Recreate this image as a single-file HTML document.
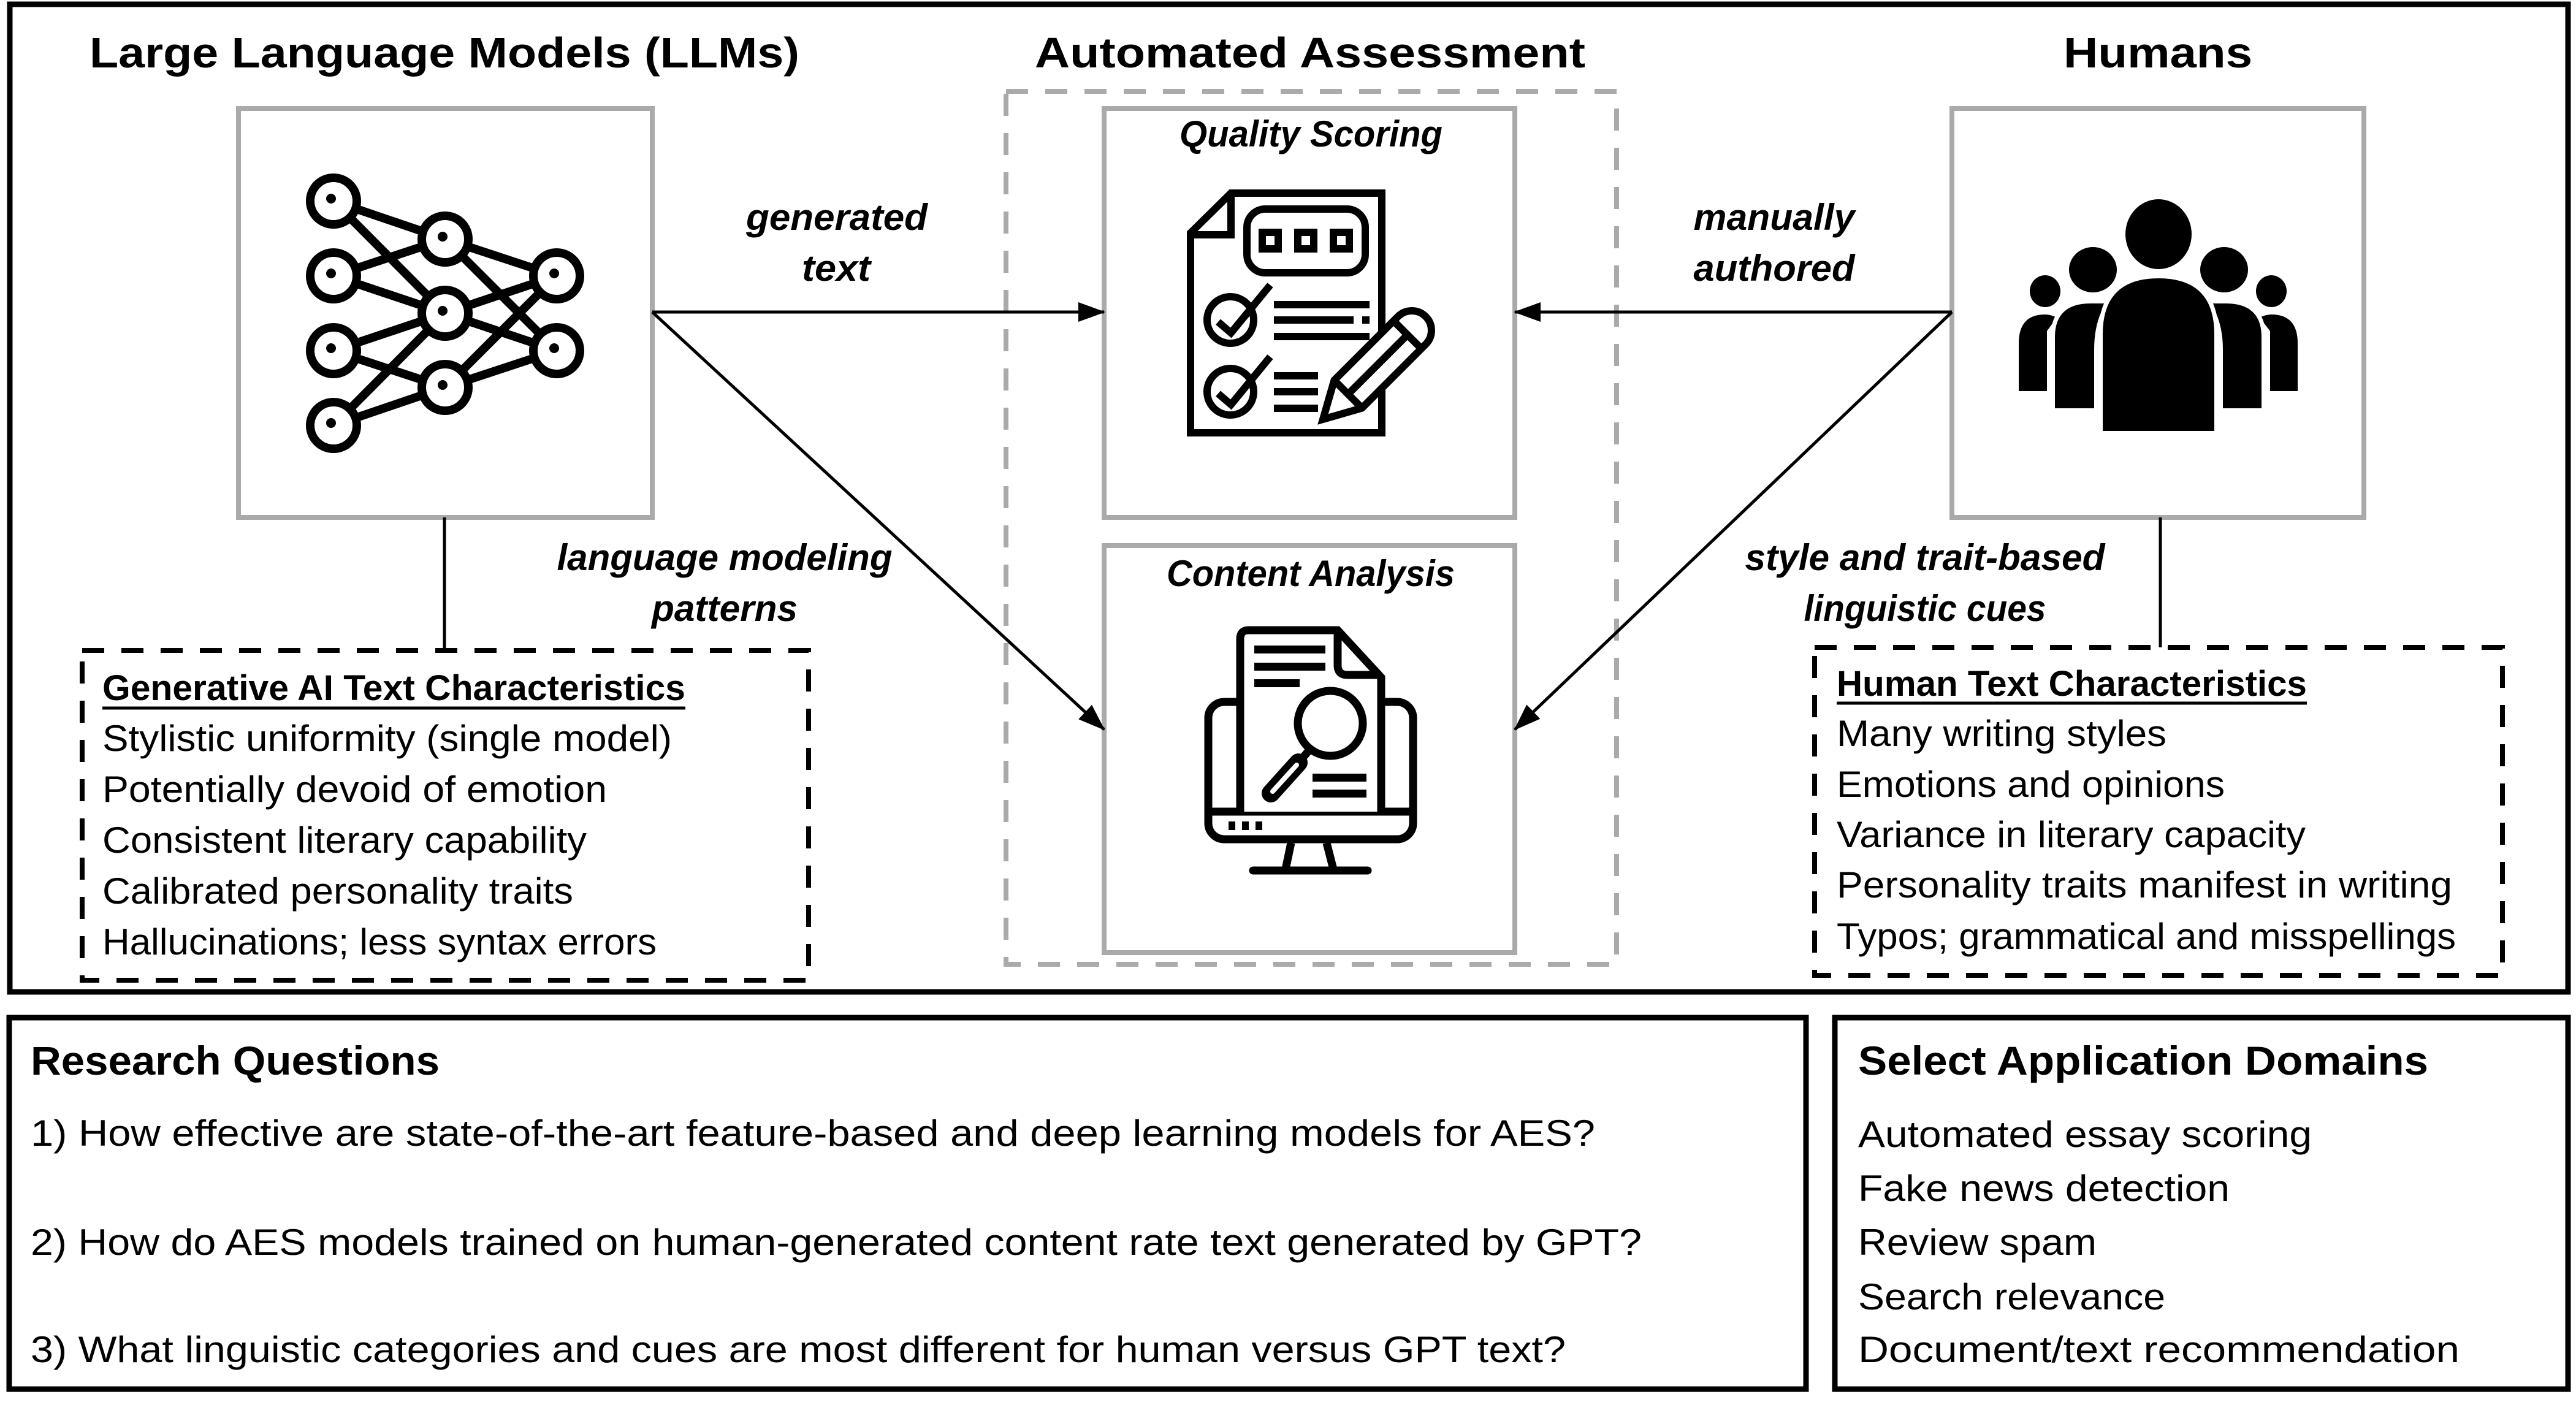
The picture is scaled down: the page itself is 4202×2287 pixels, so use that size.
<!DOCTYPE html>
<html><head><meta charset="utf-8"><style>html,body{margin:0;padding:0;background:#fff}svg{display:block}</style></head><body>
<svg xmlns="http://www.w3.org/2000/svg" width="4202" height="2287" viewBox="0 0 4202 2287" font-family="'Liberation Sans', sans-serif">
<defs>
<marker id="ah" markerUnits="userSpaceOnUse" markerWidth="44" markerHeight="32" refX="42" refY="16" orient="auto"><path d="M0,0 L44,16 L0,32 Z" fill="#000"/></marker>
</defs>
<rect width="4202" height="2287" fill="#fff"/>
<!-- outer boxes -->
<rect x="16" y="7" width="4173" height="1611" fill="none" stroke="#000" stroke-width="9"/>
<rect x="15" y="1660" width="2931" height="606" fill="none" stroke="#000" stroke-width="9"/>
<rect x="2993" y="1660" width="1196" height="606" fill="none" stroke="#000" stroke-width="9"/>

<!-- titles -->
<g font-weight="bold" font-size="70">
<text x="146" y="110" textLength="1158" lengthAdjust="spacingAndGlyphs">Large Language Models (LLMs)</text>
<text x="1688" y="110" textLength="898" lengthAdjust="spacingAndGlyphs">Automated Assessment</text>
<text x="3366" y="110" textLength="308" lengthAdjust="spacingAndGlyphs">Humans</text>
</g>

<!-- gray boxes -->
<rect x="1641" y="149" width="996" height="1424" fill="none" stroke="#aaa" stroke-width="8" stroke-dasharray="36 28"/>
<rect x="389" y="177" width="675" height="667" fill="none" stroke="#aaa" stroke-width="8"/>
<rect x="1801" y="177" width="670" height="667" fill="none" stroke="#aaa" stroke-width="8"/>
<rect x="1801" y="890" width="670" height="664" fill="none" stroke="#aaa" stroke-width="8"/>
<rect x="3184" y="177" width="672" height="667" fill="none" stroke="#aaa" stroke-width="8"/>

<g font-weight="bold" font-style="italic" font-size="60">
<text x="1924" y="239" textLength="429" lengthAdjust="spacingAndGlyphs">Quality Scoring</text>
<text x="1903" y="956" textLength="470" lengthAdjust="spacingAndGlyphs">Content Analysis</text>
<text x="1365" y="375" text-anchor="middle" textLength="296" lengthAdjust="spacingAndGlyphs">generated</text>
<text x="1364" y="458" text-anchor="middle" textLength="112" lengthAdjust="spacingAndGlyphs">text</text>
<text x="2894" y="375" text-anchor="middle" textLength="263" lengthAdjust="spacingAndGlyphs">manually</text>
<text x="2894" y="458" text-anchor="middle" textLength="263" lengthAdjust="spacingAndGlyphs">authored</text>
<text x="1182" y="930" text-anchor="middle" textLength="547" lengthAdjust="spacingAndGlyphs">language modeling</text>
<text x="1182" y="1013" text-anchor="middle" textLength="238" lengthAdjust="spacingAndGlyphs">patterns</text>
<text x="3140" y="930" text-anchor="middle" textLength="587" lengthAdjust="spacingAndGlyphs">style and trait-based</text>
<text x="3140" y="1013" text-anchor="middle" textLength="395" lengthAdjust="spacingAndGlyphs">linguistic cues</text>
</g>

<!-- arrows -->
<g stroke="#000" stroke-width="5" fill="none">
<line x1="1064" y1="509" x2="1801" y2="509" marker-end="url(#ah)"/>
<line x1="1064" y1="509" x2="1801" y2="1190" marker-end="url(#ah)"/>
<line x1="3184" y1="509" x2="2471" y2="509" marker-end="url(#ah)"/>
<line x1="3184" y1="509" x2="2471" y2="1190" marker-end="url(#ah)"/>
<line x1="725" y1="844" x2="725" y2="1061"/>
<line x1="3524" y1="844" x2="3524" y2="1056"/>
</g>

<!-- dashed characteristic boxes -->
<rect x="134" y="1061" width="1185" height="538" fill="none" stroke="#000" stroke-width="8" stroke-dasharray="36 28"/>
<rect x="2960" y="1056" width="1122" height="535" fill="none" stroke="#000" stroke-width="8" stroke-dasharray="36 28"/>

<text x="167" y="1142" font-weight="bold" font-size="58" textLength="951" lengthAdjust="spacingAndGlyphs">Generative AI Text Characteristics</text>
<line x1="167" y1="1155" x2="1118" y2="1155" stroke="#000" stroke-width="5"/>
<g font-size="60">
<text x="167" y="1225" textLength="929" lengthAdjust="spacingAndGlyphs">Stylistic uniformity (single model)</text>
<text x="167" y="1308" textLength="823" lengthAdjust="spacingAndGlyphs">Potentially devoid of emotion</text>
<text x="167" y="1391" textLength="790" lengthAdjust="spacingAndGlyphs">Consistent literary capability</text>
<text x="167" y="1474" textLength="768" lengthAdjust="spacingAndGlyphs">Calibrated personality traits</text>
<text x="167" y="1557" textLength="904" lengthAdjust="spacingAndGlyphs">Hallucinations; less syntax errors</text>
</g>

<text x="2996" y="1135" font-weight="bold" font-size="58" textLength="767" lengthAdjust="spacingAndGlyphs">Human Text Characteristics</text>
<line x1="2996" y1="1147" x2="3763" y2="1147" stroke="#000" stroke-width="5"/>
<g font-size="60">
<text x="2996" y="1217" textLength="538" lengthAdjust="spacingAndGlyphs">Many writing styles</text>
<text x="2996" y="1300" textLength="633" lengthAdjust="spacingAndGlyphs">Emotions and opinions</text>
<text x="2996" y="1382" textLength="765" lengthAdjust="spacingAndGlyphs">Variance in literary capacity</text>
<text x="2996" y="1464" textLength="1004" lengthAdjust="spacingAndGlyphs">Personality traits manifest in writing</text>
<text x="2996" y="1548" textLength="1010" lengthAdjust="spacingAndGlyphs">Typos; grammatical and misspellings</text>
</g>

<!-- bottom -->
<text x="50" y="1753" font-weight="bold" font-size="66" textLength="667" lengthAdjust="spacingAndGlyphs">Research Questions</text>
<g font-size="60">
<text x="50" y="1869" textLength="2552" lengthAdjust="spacingAndGlyphs">1) How effective are state-of-the-art feature-based and deep learning models for AES?</text>
<text x="50" y="2047" textLength="2628" lengthAdjust="spacingAndGlyphs">2) How do AES models trained on human-generated content rate text generated by GPT?</text>
<text x="50" y="2222" textLength="2504" lengthAdjust="spacingAndGlyphs">3) What linguistic categories and cues are most different for human versus GPT text?</text>
</g>
<text x="3031" y="1753" font-weight="bold" font-size="66" textLength="930" lengthAdjust="spacingAndGlyphs">Select Application Domains</text>
<g font-size="60">
<text x="3031" y="1871" textLength="740" lengthAdjust="spacingAndGlyphs">Automated essay scoring</text>
<text x="3031" y="1959" textLength="606" lengthAdjust="spacingAndGlyphs">Fake news detection</text>
<text x="3031" y="2047" textLength="389" lengthAdjust="spacingAndGlyphs">Review spam</text>
<text x="3031" y="2136" textLength="501" lengthAdjust="spacingAndGlyphs">Search relevance</text>
<text x="3031" y="2222" textLength="981" lengthAdjust="spacingAndGlyphs">Document/text recommendation</text>
</g>

<!-- neural net icon -->
<g stroke="#000" stroke-width="14" fill="none">
<path d="M544,328 L726,390 M544,328 L726,511 M544,450 L726,390 M544,450 L726,511 M544,572 L726,511 M544,572 L726,632 M544,694 L726,511 M544,694 L726,632
M726,390 L908,450 M726,390 L908,572 M726,511 L908,450 M726,511 L908,572 M726,632 L908,450 M726,632 L908,572"/>
</g>
<g stroke="#000" stroke-width="14" fill="#fff">
<ellipse cx="544" cy="328" rx="38" ry="38"/><ellipse cx="544" cy="450" rx="38" ry="38"/><ellipse cx="544" cy="572" rx="38" ry="38"/><ellipse cx="544" cy="694" rx="38" ry="38"/>
<ellipse cx="726" cy="390" rx="38" ry="38"/><ellipse cx="726" cy="511" rx="38" ry="38"/><ellipse cx="726" cy="632" rx="38" ry="38"/>
<ellipse cx="908" cy="450" rx="38" ry="38"/><ellipse cx="908" cy="572" rx="38" ry="38"/>
</g>
<g fill="#000">
<circle cx="540" cy="324" r="8"/><circle cx="540" cy="446" r="8"/><circle cx="540" cy="568" r="8"/><circle cx="540" cy="690" r="8"/>
<circle cx="722" cy="386" r="8"/><circle cx="722" cy="507" r="8"/><circle cx="722" cy="628" r="8"/>
<circle cx="904" cy="446" r="8"/><circle cx="904" cy="568" r="8"/>
</g>

<!-- quality scoring icon -->
<g stroke="#000" stroke-width="12" fill="none">
<path d="M1942,380 L2008,315 H2254 V706 H1942 Z" fill="#fff"/>
<path d="M2008,315 V383 H1942"/>
<rect x="2034" y="341" width="193" height="104" rx="30"/>
<rect x="2059" y="379" width="26" height="27"/><rect x="2117" y="379" width="26" height="27"/><rect x="2175" y="379" width="26" height="27"/>
<circle cx="2007" cy="522" r="38"/><circle cx="2007" cy="639" r="38"/>
<path d="M1987,525 L2008,543 L2072,465"/><path d="M1987,642 L2008,660 L2072,582"/>
<path d="M2078,497 H2234 M2078,522 H2208 M2222,522 H2234 M2078,549 H2234 M2078,613 H2150 M2078,639 H2150 M2078,666 H2150"/>
<g transform="translate(2158,684) rotate(-45)">
<path d="M0,0 L58,-32 H205 A32,32 0 0 1 205,32 H58 Z" fill="#fff"/>
<path d="M58,-32 V32 M195,-32 V32 M58,0 H195"/>
</g>
</g>

<!-- content analysis icon -->
<g stroke="#000" stroke-width="13" fill="none">
<rect x="1971" y="1145" width="334" height="224" rx="26" fill="#fff"/>
<path d="M1971,1324 H2305"/>
<path d="M2023,1324 V1042 Q2023,1028 2037,1028 H2182 L2253,1105 V1324" fill="#fff"/>
<path d="M2182,1028 V1085 Q2182,1101 2198,1101 H2253"/>
<circle cx="2170" cy="1180" r="53" fill="#fff"/>
<path d="M2138,1221 L2125,1236"/>
<path d="M2106,1375 L2097,1418 M2164,1375 L2175,1418"/>
<path d="M2044,1420 H2231" stroke-linecap="round"/>
</g>
<path d="M2118,1244 L2073,1294" stroke="#000" stroke-width="30" stroke-linecap="round"/>
<path d="M2115,1248 L2076,1291" stroke="#fff" stroke-width="8" stroke-linecap="round"/>
<g fill="#000">
<rect x="2046" y="1053" width="116" height="13"/><rect x="2046" y="1081" width="116" height="13"/><rect x="2046" y="1108" width="74" height="13"/>
<rect x="2141" y="1262" width="88" height="13"/><rect x="2141" y="1288" width="88" height="13"/>
<rect x="2004" y="1340" width="11" height="14"/><rect x="2026" y="1340" width="11" height="14"/><rect x="2048" y="1340" width="11" height="14"/>
</g>

<!-- humans icon -->
<g fill="#000" stroke="#fff" stroke-width="14" paint-order="stroke">
<ellipse cx="3336" cy="475" rx="25" ry="26"/><ellipse cx="3705" cy="475" rx="25" ry="26"/>
<path d="M3293,638 V560 Q3293,513 3336,513 Q3345,513 3355,518 L3339,540 V638 Z"/>
<path d="M3748,638 V560 Q3748,513 3705,513 Q3696,513 3686,518 L3703,540 V638 Z"/>
<ellipse cx="3414" cy="440" rx="39" ry="37"/><ellipse cx="3628" cy="440" rx="39" ry="37"/>
<path d="M3352,666 V550 Q3352,495 3410,495 H3435 Q3416,525 3416,570 V666 Z"/>
<path d="M3689,666 V550 Q3689,495 3631,495 H3606 Q3626,525 3626,570 V666 Z"/>
<ellipse cx="3521" cy="382" rx="54" ry="57"/>
<path d="M3430,703 V545 Q3430,454 3521,454 Q3612,454 3612,545 V703 Z"/>
</g>
</svg>
</body></html>
